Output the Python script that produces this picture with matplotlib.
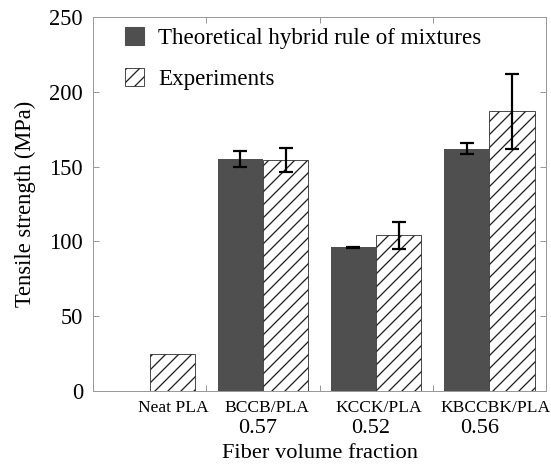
import numpy as np
import matplotlib
matplotlib.use("Agg")
import matplotlib.pyplot as plt
from matplotlib.patches import Patch

DPI = 78


def px(v):
    # pixel size -> points at the figure dpi
    return v * 72 / DPI


# Tensile strength data (MPa)
categories = ["Neat PLA", "BCCB/PLA", "KCCK/PLA", "KBCCBK/PLA"]
fractions = ["", "0.57", "0.52", "0.56"]
theory = [np.nan, 155, 96, 162]
theory_err = [np.nan, 5.5, 0.5, 3.5]
experiment = [25, 154.5, 104, 187]
experiment_err = [np.nan, 8, 9, 25]

# label placement (data x, slightly off the group centres)
label_x = [0.21, 1.035, 2.02, 3.05]
fraction_x = [0.0, 0.955, 1.95, 2.91]

plt.rcParams["font.family"] = ["Liberation Serif", "DejaVu Serif"]
plt.rcParams["hatch.linewidth"] = px(1.3)

fig = plt.figure(figsize=(551 / DPI, 464 / DPI), dpi=DPI)
ax = fig.add_axes([93 / 551, 1 - 391 / 464, 453 / 551, 374 / 464])

x = np.arange(len(categories))
w = 0.4
ax.bar(x - w / 2, theory, w, color="#4f4f4f", edgecolor="#4f4f4f", linewidth=0)
ax.bar(x + w / 2, experiment, w, color="white", edgecolor="#222222",
       hatch="//", linewidth=px(0.8))

ebar = dict(fmt="none", ecolor="black", elinewidth=px(2.2),
            capsize=px(7), capthick=px(2.2))
ax.errorbar(x - w / 2, theory, yerr=theory_err, **ebar)
ax.errorbar(x + w / 2, experiment, yerr=experiment_err, **ebar)

ax.set_xlim(-0.5, 3.5)
ax.set_ylim(0, 250)
ax.set_yticks(np.arange(0, 251, 50))
ax.set_xticks([0.5, 1.5, 2.5])
ax.set_xticklabels([])
ax.tick_params(direction="in", length=px(6), width=px(1), color="#999999",
               top=True, right=True, labelsize=px(22.5), pad=px(10))
for s in ax.spines.values():
    s.set_color("#999999")
    s.set_linewidth(px(1))

tr = ax.get_xaxis_transform()
for i, name in enumerate(categories):
    ax.text(label_x[i], -0.0455, name, transform=tr, ha="center",
            va="center", fontsize=px(17.5))
for i, frac in enumerate(fractions):
    if frac:
        ax.text(fraction_x[i], -0.099, frac, transform=tr, ha="center",
                va="center", fontsize=px(22.3))
ax.text(1.5, -0.166, "Fiber volume fraction", transform=tr, ha="center",
        va="center", fontsize=px(22.4))

ax.set_ylabel("Tensile strength (MPa)", fontsize=px(22.5))
ax.yaxis.set_label_coords(-0.125, 0.5)

handles = [Patch(facecolor="#4f4f4f", edgecolor="#4f4f4f"),
           Patch(facecolor="white", edgecolor="#222222", hatch="//",
                 linewidth=px(0.8))]
ax.legend(handles, ["Theoretical hybrid rule of mixtures", "Experiments"],
          loc="upper left", bbox_to_anchor=(0.071, 0.972), frameon=False,
          borderpad=0, borderaxespad=0, fontsize=px(23),
          handlelength=0.82, handleheight=0.82, handletextpad=0.6,
          labelspacing=0.82)

fig.savefig("out.png", dpi=DPI)
